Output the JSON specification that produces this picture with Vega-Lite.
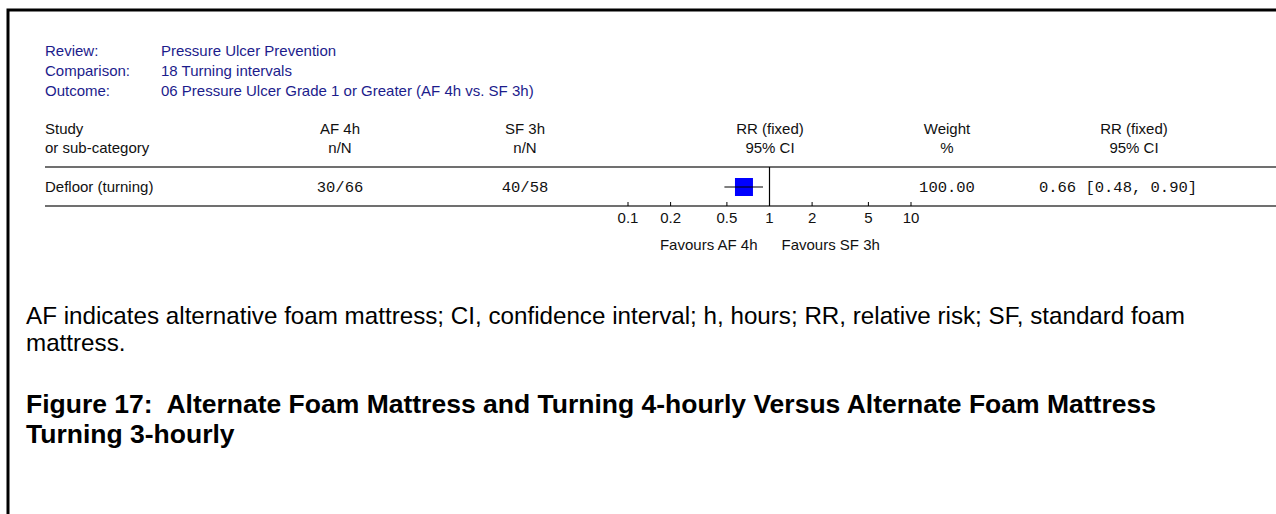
{
  "$schema": "https://vega.github.io/schema/vega-lite/v6.json",
  "width": 1268,
  "height": 504,
  "autosize": {"type": "none"},
  "padding": {"left": 8, "top": 10, "right": 0, "bottom": 0},
  "background": "white",
  "config": {"view": {"stroke": "black", "strokeWidth": 3, "strokeDash": [1268, 1772, 504]}},
  "datasets": {
    "text": [
      {"kind": "meta", "line": 1, "col": 1, "text": "Review:"},
      {"kind": "meta", "line": 1, "col": 2, "text": "Pressure Ulcer Prevention"},
      {"kind": "meta", "line": 2, "col": 1, "text": "Comparison:"},
      {"kind": "meta", "line": 2, "col": 2, "text": "18 Turning intervals"},
      {"kind": "meta", "line": 3, "col": 1, "text": "Outcome:"},
      {"kind": "meta", "line": 3, "col": 2, "text": "06 Pressure Ulcer Grade 1 or Greater (AF 4h vs. SF 3h)"},
      {"kind": "head", "line": 4, "col": 1, "text": "Study"},
      {"kind": "head", "line": 5, "col": 1, "text": "or sub-category"},
      {"kind": "headc", "line": 4, "col": 3, "text": "AF 4h"},
      {"kind": "headc", "line": 5, "col": 3, "text": "n/N"},
      {"kind": "headc", "line": 4, "col": 4, "text": "SF 3h"},
      {"kind": "headc", "line": 5, "col": 4, "text": "n/N"},
      {"kind": "headc", "line": 4, "col": 5, "text": "RR (fixed)"},
      {"kind": "headc", "line": 5, "col": 5, "text": "95% CI"},
      {"kind": "headc", "line": 4, "col": 6, "text": "Weight"},
      {"kind": "headc", "line": 5, "col": 6, "text": "%"},
      {"kind": "headc", "line": 4, "col": 7, "text": "RR (fixed)"},
      {"kind": "headc", "line": 5, "col": 7, "text": "95% CI"},
      {"kind": "name", "line": 7, "col": 1, "text": "Defloor (turning)"},
      {"kind": "num", "line": 7, "col": 3, "text": "30/66"},
      {"kind": "num", "line": 7, "col": 4, "text": "40/58"},
      {"kind": "num", "line": 7, "col": 6, "text": "100.00"},
      {"kind": "ci", "line": 7, "col": 7, "text": "0.66 [0.48, 0.90]"},
      {"kind": "note", "line": 11, "col": 0, "text": "AF indicates alternative foam mattress; CI, confidence interval; h, hours; RR, relative risk; SF, standard foam"},
      {"kind": "note", "line": 12, "col": 0, "text": "mattress."},
      {"kind": "title", "line": 13, "col": 0, "text": "Figure 17:\u00a0 Alternate Foam Mattress and Turning 4-hourly Versus Alternate Foam Mattress"},
      {"kind": "title", "line": 14, "col": 0, "text": "Turning 3-hourly"}
    ],
    "rules": [
      {"rule": "header", "line": 6},
      {"rule": "axis", "line": 8}
    ],
    "study": [
      {"study": "Defloor (turning)", "rr": 0.66, "lo": 0.48, "hi": 0.90}
    ],
    "ticks": [
      {"v": 0.1, "label": "0.1"},
      {"v": 0.2, "label": "0.2"},
      {"v": 0.5, "label": "0.5"},
      {"v": 1, "label": "1"},
      {"v": 2, "label": "2"},
      {"v": 5, "label": "5"},
      {"v": 10, "label": "10"}
    ],
    "favours": [
      {"side": "AF", "text": "Favours AF 4h"},
      {"side": "SF", "text": "Favours SF 3h"}
    ]
  },
  "layer": [
    {
      "data": {"name": "rules"},
      "mark": {"type": "rule", "stroke": "#404040", "strokeWidth": 1.5},
      "encoding": {
        "x": {"datum": 1, "type": "quantitative", "axis": null, "scale": {"type": "linear", "domain": [0, 1, 2, 3, 4, 5, 6, 7, 8], "range": [18, 37, 153, 332, 517, 762, 939, 1126, 1268], "zero": false, "nice": false}},
        "x2": {"datum": 8},
        "y": {"field": "line", "type": "quantitative", "axis": null, "scale": {"type": "linear", "domain": [1, 2, 3, 4, 5, 6, 7, 8, 9, 10, 11, 12, 13, 14], "range": [41, 61, 81, 119, 138, 157, 177, 196, 208, 235, 307, 334, 395, 425], "zero": false, "nice": false}}
      }
    },
    {
      "data": {"name": "ticks"},
      "transform": [{"filter": "datum.v === 1"}],
      "mark": {"type": "rule", "stroke": "#000000", "strokeWidth": 1.2},
      "encoding": {
        "x": {"field": "v", "type": "quantitative", "axis": null, "scale": {"type": "log", "domain": [0.1, 10], "range": [620, 903], "nice": false}},
        "y": {"datum": 6, "type": "quantitative"},
        "y2": {"datum": 8}
      }
    },
    {
      "data": {"name": "ticks"},
      "mark": {"type": "rule", "stroke": "#000000", "strokeWidth": 1, "y2Offset": -4},
      "encoding": {
        "x": {"field": "v", "type": "quantitative", "axis": null, "scale": {"type": "log", "domain": [0.1, 10], "range": [620, 903], "nice": false}},
        "y": {"datum": 8, "type": "quantitative"},
        "y2": {"datum": 8}
      }
    },
    {
      "data": {"name": "ticks"},
      "mark": {"type": "text", "font": "Liberation Sans", "fontSize": 15, "color": "#111111", "align": "center", "baseline": "middle"},
      "encoding": {
        "x": {"field": "v", "type": "quantitative", "axis": null, "scale": {"type": "log", "domain": [0.1, 10], "range": [620, 903], "nice": false}},
        "y": {"datum": 9, "type": "quantitative"},
        "text": {"field": "label"}
      }
    },
    {
      "data": {"name": "study"},
      "mark": {"type": "point", "shape": "square", "filled": true, "size": 324, "color": "#0000ff", "opacity": 1},
      "encoding": {
        "x": {"field": "rr", "type": "quantitative", "axis": null, "scale": {"type": "log", "domain": [0.1, 10], "range": [620, 903], "nice": false}},
        "y": {"datum": 7, "type": "quantitative"}
      }
    },
    {
      "data": {"name": "study"},
      "mark": {"type": "rule", "stroke": "#000000", "strokeWidth": 1.2},
      "encoding": {
        "x": {"field": "lo", "type": "quantitative", "axis": null, "scale": {"type": "log", "domain": [0.1, 10], "range": [620, 903], "nice": false}},
        "x2": {"field": "hi"},
        "y": {"datum": 7, "type": "quantitative"}
      }
    },
    {
      "data": {"name": "favours"},
      "transform": [{"filter": "datum.side === 'AF'"}],
      "mark": {"type": "text", "font": "Liberation Sans", "fontSize": 15, "color": "#111111", "align": "right", "baseline": "middle", "dx": -12},
      "encoding": {
        "x": {"datum": 1, "type": "quantitative", "axis": null, "scale": {"type": "log", "domain": [0.1, 10], "range": [620, 903], "nice": false}},
        "y": {"datum": 10, "type": "quantitative"},
        "text": {"field": "text"}
      }
    },
    {
      "data": {"name": "favours"},
      "transform": [{"filter": "datum.side === 'SF'"}],
      "mark": {"type": "text", "font": "Liberation Sans", "fontSize": 15, "color": "#111111", "align": "left", "baseline": "middle", "dx": 12},
      "encoding": {
        "x": {"datum": 1, "type": "quantitative", "axis": null, "scale": {"type": "log", "domain": [0.1, 10], "range": [620, 903], "nice": false}},
        "y": {"datum": 10, "type": "quantitative"},
        "text": {"field": "text"}
      }
    },
    {
      "data": {"name": "text"},
      "transform": [{"filter": "datum.kind === 'meta'"}],
      "mark": {"type": "text", "font": "Liberation Sans", "fontSize": 15, "color": "#1c1c8c", "align": "left", "baseline": "middle"},
      "encoding": {
        "x": {"field": "col", "type": "quantitative", "axis": null, "scale": {"type": "linear", "domain": [0, 1, 2, 3, 4, 5, 6, 7, 8], "range": [18, 37, 153, 332, 517, 762, 939, 1126, 1268], "zero": false, "nice": false}},
        "y": {"field": "line", "type": "quantitative"},
        "text": {"field": "text"}
      }
    },
    {
      "data": {"name": "text"},
      "transform": [{"filter": "datum.kind === 'head' || datum.kind === 'name'"}],
      "mark": {"type": "text", "font": "Liberation Sans", "fontSize": 15, "color": "#111111", "align": "left", "baseline": "middle"},
      "encoding": {
        "x": {"field": "col", "type": "quantitative", "axis": null, "scale": {"type": "linear", "domain": [0, 1, 2, 3, 4, 5, 6, 7, 8], "range": [18, 37, 153, 332, 517, 762, 939, 1126, 1268], "zero": false, "nice": false}},
        "y": {"field": "line", "type": "quantitative"},
        "text": {"field": "text"}
      }
    },
    {
      "data": {"name": "text"},
      "transform": [{"filter": "datum.kind === 'headc'"}],
      "mark": {"type": "text", "font": "Liberation Sans", "fontSize": 15, "color": "#111111", "align": "center", "baseline": "middle"},
      "encoding": {
        "x": {"field": "col", "type": "quantitative", "axis": null, "scale": {"type": "linear", "domain": [0, 1, 2, 3, 4, 5, 6, 7, 8], "range": [18, 37, 153, 332, 517, 762, 939, 1126, 1268], "zero": false, "nice": false}},
        "y": {"field": "line", "type": "quantitative"},
        "text": {"field": "text"}
      }
    },
    {
      "data": {"name": "text"},
      "transform": [{"filter": "datum.kind === 'num'"}],
      "mark": {"type": "text", "font": "Liberation Mono", "fontSize": 15.5, "color": "#111111", "align": "center", "baseline": "middle"},
      "encoding": {
        "x": {"field": "col", "type": "quantitative", "axis": null, "scale": {"type": "linear", "domain": [0, 1, 2, 3, 4, 5, 6, 7, 8], "range": [18, 37, 153, 332, 517, 762, 939, 1126, 1268], "zero": false, "nice": false}},
        "y": {"field": "line", "type": "quantitative"},
        "text": {"field": "text"}
      }
    },
    {
      "data": {"name": "text"},
      "transform": [{"filter": "datum.kind === 'ci'"}],
      "mark": {"type": "text", "font": "Liberation Mono", "fontSize": 15.5, "color": "#111111", "align": "center", "baseline": "middle", "dx": -16},
      "encoding": {
        "x": {"field": "col", "type": "quantitative", "axis": null, "scale": {"type": "linear", "domain": [0, 1, 2, 3, 4, 5, 6, 7, 8], "range": [18, 37, 153, 332, 517, 762, 939, 1126, 1268], "zero": false, "nice": false}},
        "y": {"field": "line", "type": "quantitative"},
        "text": {"field": "text"}
      }
    },
    {
      "data": {"name": "text"},
      "transform": [{"filter": "datum.kind === 'note'"}],
      "mark": {"type": "text", "font": "Liberation Sans", "fontSize": 24.2, "color": "#000000", "align": "left", "baseline": "middle"},
      "encoding": {
        "x": {"field": "col", "type": "quantitative", "axis": null, "scale": {"type": "linear", "domain": [0, 1, 2, 3, 4, 5, 6, 7, 8], "range": [18, 37, 153, 332, 517, 762, 939, 1126, 1268], "zero": false, "nice": false}},
        "y": {"field": "line", "type": "quantitative"},
        "text": {"field": "text"}
      }
    },
    {
      "data": {"name": "text"},
      "transform": [{"filter": "datum.kind === 'title'"}],
      "mark": {"type": "text", "font": "Liberation Sans", "fontSize": 26.5, "fontWeight": "bold", "color": "#000000", "align": "left", "baseline": "middle"},
      "encoding": {
        "x": {"field": "col", "type": "quantitative", "axis": null, "scale": {"type": "linear", "domain": [0, 1, 2, 3, 4, 5, 6, 7, 8], "range": [18, 37, 153, 332, 517, 762, 939, 1126, 1268], "zero": false, "nice": false}},
        "y": {"field": "line", "type": "quantitative"},
        "text": {"field": "text"}
      }
    }
  ],
  "resolve": {"scale": {"x": "independent"}}
}
